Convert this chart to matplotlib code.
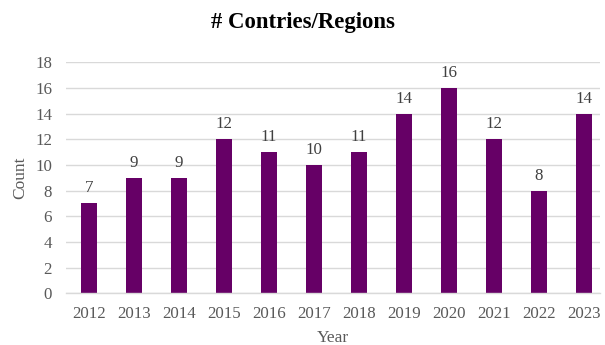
import matplotlib.pyplot as plt

years = ['2012', '2013', '2014', '2015', '2016', '2017',
         '2018', '2019', '2020', '2021', '2022', '2023']
counts = [7, 9, 9, 12, 11, 10, 11, 14, 16, 12, 8, 14]

plt.rcParams['font.family'] = ['Liberation Serif', 'DejaVu Serif']

fig = plt.figure(figsize=(6.05, 3.45), dpi=100)
ax = fig.add_axes([0.109, 0.15, 0.8826, 0.6696])

x = range(len(years))
bars = ax.bar(x, counts, width=0.35, color='#660066', zorder=3)
ax.bar_label(bars, labels=[str(c) for c in counts], padding=5,
             fontsize=12.2, color='#404040')

ax.set_xlim(-0.511, len(years) - 1 + 0.356)
ax.set_ylim(0, 18)
ax.set_yticks(range(0, 19, 2))
ax.set_xticks(list(x))
ax.set_xticklabels(years)
ax.tick_params(axis='both', length=0, labelsize=12.2, colors='#595959')
ax.tick_params(axis='x', pad=9)
ax.tick_params(axis='y', pad=10)

ax.grid(axis='y', color='#d9d9d9', linewidth=1.0, zorder=0)
for s in ['top', 'right', 'left']:
    ax.spines[s].set_visible(False)
ax.spines['bottom'].set_color('#d9d9d9')
ax.spines['bottom'].set_linewidth(1.0)
ax.spines['bottom'].set_zorder(4)

ax.set_xlabel('Year', fontsize=12.5, color='#595959', labelpad=6)
ax.set_ylabel('Count', fontsize=12.5, color='#595959', labelpad=5)
fig.suptitle('# Contries/Regions', x=0.5, y=0.965, fontsize=16.4,
             fontweight='bold', color='black')

fig.savefig('out.png', dpi=100)
